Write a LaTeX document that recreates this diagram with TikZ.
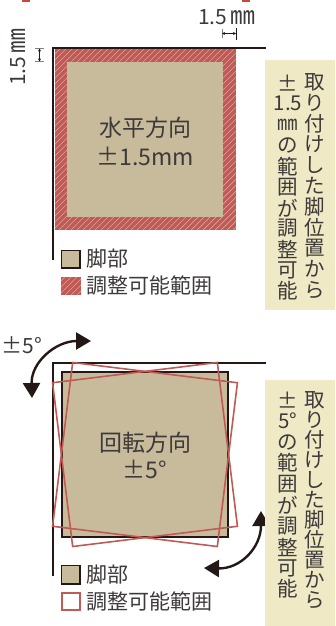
\documentclass[tikz,border=0pt]{standalone}
\usepackage{fontspec}
\setmainfont{Noto Sans CJK JP}
\usetikzlibrary{arrows.meta}
\definecolor{ink}{HTML}{231815}
\definecolor{txt}{HTML}{3E3A39}
\definecolor{beige}{HTML}{C8BB9C}
\definecolor{hred}{HTML}{BF5A55}
\definecolor{hlight}{HTML}{E3A09C}
\definecolor{boxy}{HTML}{F0E9C6}
\definecolor{topred}{HTML}{C9483E}
\newcommand\myhatch[4]{%
  \fill[hred] (#1,#2) rectangle (#3,#4);
  \begin{scope}
    \clip (#1,#2) rectangle (#3,#4);
    \foreach \k in {-200,-194,...,200} \draw[hlight, line width=0.7pt] ({#1+\k},#4) -- ++(220,-220);
  \end{scope}}
\newcommand\mmglyph{{\fontsize{25}{25}\selectfont ㎜}}
\begin{document}
\begin{tikzpicture}[x=1pt,y=-1pt,
  frame/.style={draw=ink,line width=2pt},
  vch/.style={font=\fontsize{20.5}{20.5}\selectfont, text=txt, inner sep=0pt, anchor=center},
  lbl/.style={font=\fontsize{21}{21}\selectfont, text=txt, inner sep=0pt, anchor=west},
  ctr/.style={font=\fontsize{23}{23}\selectfont, text=txt, inner sep=0pt},
  dim/.style={font=\fontsize{21}{21}\selectfont, text=txt, inner sep=0pt},
  rotsq/.style={draw=hred, line width=1.6pt},
  bigarrow/.style={draw=ink, line width=2.4pt, {Triangle[length=15pt,width=17pt]}-{Triangle[length=15pt,width=17pt]}},
  dimarrow/.style={draw=ink, line width=0.5pt, {Stealth[length=3pt,width=3pt]}-{Stealth[length=3pt,width=3pt]}},
]
\useasboundingbox (0,0) rectangle (335,626);
% tiny red marks at the top
\fill[topred] (22,0) rectangle (30,2);
\fill[topred] (242,0) rectangle (250,2);

% ---------------- top diagram ----------------
\myhatch{55}{49}{236}{230}
\fill[beige] (67,62) rectangle (223,217);
\draw[frame] (53,260) -- (53,48) -- (266,48);
\node[ctr] (h1) at (145,128) {水平方向};
\node[ctr] (h2) at (145,156) {±1.5mm};

% dimension marks
\node[dim] (dt) at (227,17) {1.5\,\mmglyph};
\draw[gray, line width=0.6pt] (222,29) -- (222,38);
\draw[ink, line width=0.8pt] (236,28) -- (236,40);
\coordinate (dta) at (222,33.5);
\coordinate (dtb) at (236,33.5);
\draw[dimarrow] (dta) -- (dtb);
\node[dim, rotate=90] (dl) at (18,57) {1.5\,\mmglyph};
\draw[gray, line width=0.6pt] (35,48.5) -- (44,48.5);
\draw[gray, line width=0.6pt] (35,61.5) -- (44,61.5);
\coordinate (dla) at (39.5,48.5);
\coordinate (dlb) at (39.5,61.5);
\draw[dimarrow] (dla) -- (dlb);

% legend
\filldraw[fill=beige, draw=ink, line width=1.2pt] (61.5,250.5) rectangle (80,268);
\node[lbl] (l1) at (86,259) {脚部};
\myhatch{61}{277}{81}{295}
\node[lbl] (l2) at (86,286) {調整可能範囲};

% right text box
\fill[boxy] (265,60) rectangle (335,310);
\foreach \c [count=\i from 0] in {取,り,付,け,し,た,脚,位,置,か,ら}
  \node[vch] (ta\i) at (315,{82+\i*20.8}) {\c};
\foreach \c [count=\i from 0] in {±,1.5,㎜,の,範,囲,が,調,整,可,能}
  \node[vch] (tb\i) at (288,{83+\i*20.8}) {\c};

% ---------------- bottom diagram ----------------
\draw[frame] (53,576) -- (53,363) -- (266,363);
\filldraw[fill=beige, draw=ink, line width=2pt] (62,372) rectangle (228,537);
\draw[rotsq, rotate around={7:(145,454.5)}] (62,372) rectangle (228,537);
\draw[rotsq, rotate around={-7:(145,454.5)}] (62,372) rectangle (228,537);
\node[ctr] (r1) at (145,443) {回転方向};
\node[ctr] (r2) at (145,469) {±5°};

% arrows
\node[dim] (pm) at (22,345) {±5°};
\coordinate (a1) at (32,398);
\coordinate (a2) at (91,341);
\draw[bigarrow] (a1) .. controls (31,362) and (56,341) .. (a2);
\coordinate (b1) at (204,568);
\coordinate (b2) at (261,511);
\draw[bigarrow] (b1) .. controls (240,569) and (261,548) .. (b2);

% legend
\filldraw[fill=beige, draw=ink, line width=1.2pt] (61.5,565.5) rectangle (80,584);
\node[lbl] (l3) at (86,575) {脚部};
\filldraw[fill=white, draw=hred, line width=2pt] (62,593) rectangle (80,610);
\node[lbl] (l4) at (86,602) {調整可能範囲};

% right text box
\fill[boxy] (265,380) rectangle (335,626);
\foreach \c [count=\i from 0] in {取,り,付,け,し,た,脚,位,置,か,ら}
  \node[vch] (tc\i) at (315,{400+\i*20}) {\c};
\foreach \c [count=\i from 0] in {±,5°,の,範,囲,が,調,整,可,能}
  \node[vch] (td\i) at (288,{400+\i*21}) {\c};
\end{tikzpicture}
\end{document}
